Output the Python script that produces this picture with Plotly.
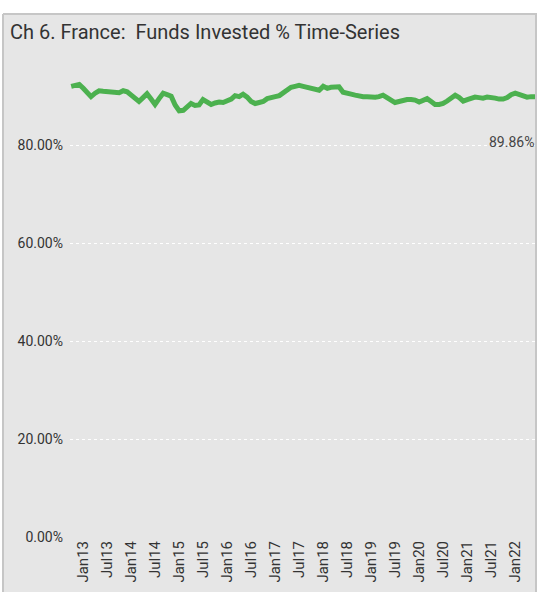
import pandas as pd
import plotly.graph_objects as go

# monthly series, Oct 2012 .. Jun 2022
start_month = "2012-10-01"
funds_invested_pct = [
    92.0, 92.1, 92.4, 91.6, 90.7, 89.9, 90.6, 91.1, 91.0, 90.9,
    91.0, 90.7, 90.7, 91.1, 90.9, 90.2, 89.5, 88.9, 89.7, 90.5,
    89.4, 88.3, 89.5, 90.6, 90.3, 90.0, 88.2, 87.0, 87.1, 87.9,
    88.5, 88.1, 88.2, 89.3, 88.9, 88.3, 88.6, 88.8, 88.7, 89.1,
    89.4, 90.1, 89.9, 90.4, 89.8, 88.9, 88.5, 88.7, 88.9, 89.5,
    89.6, 89.9, 90.1, 90.6, 91.3, 91.8, 92.0, 92.2, 92.0, 91.8,
    91.7, 91.4, 91.2, 92.0, 91.6, 91.8, 91.9, 91.9, 90.8, 90.7,
    90.4, 90.2, 90.0, 89.9, 89.9, 89.8, 89.8, 89.9, 90.2, 89.7,
    89.1, 88.7, 88.9, 89.2, 89.3, 89.3, 89.2, 88.8, 89.2, 89.5,
    88.9, 88.3, 88.3, 88.5, 89.0, 89.7, 90.2, 89.7, 89.0, 89.3,
    89.6, 89.8, 89.7, 89.6, 89.8, 89.8, 89.6, 89.4, 89.4, 89.7,
    90.3, 90.6, 90.4, 90.0, 89.8, 89.9, 89.86,
]
months = pd.date_range(start_month, periods=len(funds_invested_pct), freq="MS")
y_ticks = [0, 20, 40, 60, 80]

FONT = "Roboto"
GRAY_BG = "#e6e6e6"
BORDER = "#c6c6c6"

fig = go.Figure()
fig.add_trace(go.Scatter(
    x=months, y=funds_invested_pct, mode="lines",
    line=dict(color="#4cb14f", width=5),
    showlegend=False, hoverinfo="skip",
))

last = funds_invested_pct[-1]
fig.add_annotation(
    x=months[-1], y=last, text=f"{last:.2f}%", showarrow=False,
    xanchor="right", yanchor="middle", xshift=1, yshift=-45,
    font=dict(family=FONT, size=14, color="#444"),
)

# white margin strips + card border (pixel -> paper helpers)
def px_x(p):
    return (p - 70) / 466

def px_y(p):
    return (537 - p) / 482

shapes = [
    dict(type="rect", xref="paper", yref="paper", x0=px_x(-5), x1=px_x(545),
         y0=px_y(14), y1=px_y(-5), fillcolor="white", line_width=0),
    dict(type="rect", xref="paper", yref="paper", x0=px_x(-5), x1=px_x(3),
         y0=px_y(600), y1=px_y(-5), fillcolor="white", line_width=0),
    dict(type="rect", xref="paper", yref="paper", x0=px_x(537), x1=px_x(545),
         y0=px_y(600), y1=px_y(-5), fillcolor="white", line_width=0),
    dict(type="line", xref="paper", yref="paper", x0=px_x(3), x1=px_x(537),
         y0=px_y(14), y1=px_y(14), line=dict(color=BORDER, width=2)),
    dict(type="line", xref="paper", yref="paper", x0=px_x(3), x1=px_x(3),
         y0=px_y(14), y1=px_y(600), line=dict(color=BORDER, width=2)),
    dict(type="line", xref="paper", yref="paper", x0=px_x(536), x1=px_x(536),
         y0=px_y(14), y1=px_y(600), line=dict(color=BORDER, width=2)),
]

fig.update_layout(
    width=538, height=592,
    margin=dict(l=70, r=2, t=55, b=55),
    paper_bgcolor=GRAY_BG, plot_bgcolor=GRAY_BG,
    font=dict(family=FONT, color="#444"),
    shapes=shapes,
    title=dict(
        text="Ch 6. France:  Funds Invested % Time-Series",
        x=10 / 538, xanchor="left", y=1 - 32 / 592, yanchor="middle",
        font=dict(family=FONT, size=20, color="#333"),
    ),
)
fig.update_xaxes(
    type="date", range=["2012-09-22", "2022-06-08"],
    tick0="2013-01-01", dtick="M6", tickformat="%b%y",
    tickangle=-90, tickfont=dict(family=FONT, size=15, color="#333"),
    showgrid=False, zeroline=False, showline=False, ticks="",
)
fig.update_yaxes(
    range=[0, 98.4], tickvals=y_ticks,
    ticktext=[f"{v:.2f}%" for v in y_ticks],
    tickfont=dict(family=FONT, size=14, color="#333"),
    showgrid=True, gridcolor="white", griddash="dot", gridwidth=1,
    zeroline=False, showline=False, ticks="", ticklabelstandoff=6,
)

# drop the page's default body margin so the figure sits at the window's corner
fig.write_html(
    "out.html",
    config={"displayModeBar": False},
    post_script="document.body.style.margin='0';",
)
